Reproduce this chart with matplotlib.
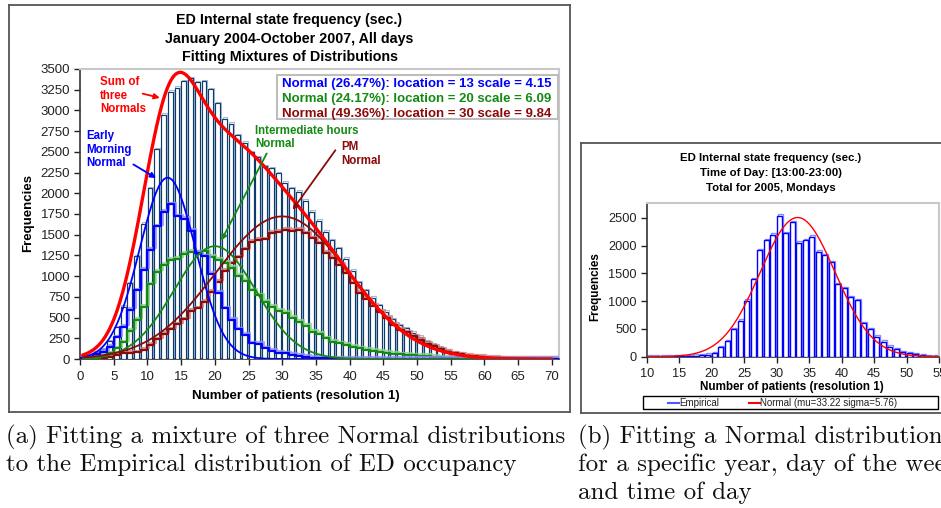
import numpy as np
import matplotlib
matplotlib.use("Agg")
import matplotlib.pyplot as plt
from matplotlib.patches import Rectangle
from matplotlib.lines import Line2D
import matplotlib.patheffects as pe

plt.rcParams['font.family'] = ['Liberation Sans', 'DejaVu Sans']

# ---------------- data: panel (a) ----------------
patients = list(range(71))
empirical = [28, 48, 80, 120, 213, 386, 632, 913, 1243, 1634,
             2062, 2531, 2950, 3225, 3275, 3350, 3387, 3340, 3355, 3255,
             3085, 2900, 2840, 2705, 2610, 2500, 2435, 2330, 2305, 2245,
             2130, 2060, 2020, 1910, 1780, 1670, 1537, 1437, 1336, 1211,
             1066, 925, 829, 740, 652, 571, 479, 410, 370, 318,
             270, 217, 181, 141, 109, 85, 64, 48, 36, 28,
             20, 14, 10, 7, 5, 4, 3, 2, 1, 1, 0]
early_morning = [15, 30, 55, 90, 150, 260, 390, 590, 830, 1075,
                 1320, 1600, 1780, 1865, 1720, 1690, 1550, 1280, 1240, 1030,
                 800, 610, 470, 360, 290, 190, 180, 130, 100, 76,
                 68, 48, 35, 25, 18, 14, 10, 8, 6, 5,
                 4, 3, 2, 2, 1, 1, 1, 0, 0, 0,
                 0, 0, 0, 0, 0, 0, 0, 0, 0, 0,
                 0, 0, 0, 0, 0, 0, 0, 0, 0, 0, 0]
intermediate = [5, 10, 18, 35, 68, 130, 200, 340, 470, 630,
                900, 1055, 1135, 1195, 1210, 1270, 1290, 1285, 1300, 1230,
                1200, 1160, 1100, 1000, 940, 830, 770, 690, 630, 580,
                560, 500, 450, 400, 330, 300, 250, 210, 190, 170,
                150, 130, 110, 95, 85, 75, 65, 55, 50, 45,
                40, 35, 28, 20, 14, 10, 6, 4, 2, 1,
                0, 0, 0, 0, 0, 0, 0, 0, 0, 0, 0]
pm = [5, 8, 10, 15, 25, 48, 68, 76, 80, 109,
      169, 237, 302, 358, 418, 479, 583, 612, 692, 813,
      934, 1066, 1155, 1227, 1324, 1416, 1437, 1445, 1525, 1537,
      1557, 1549, 1557, 1517, 1457, 1396, 1280, 1220, 1140, 1040,
      915, 795, 720, 645, 567, 496, 414, 355, 320, 273,
      230, 182, 151, 116, 89, 70, 55, 42, 32, 25,
      18, 13, 9, 6, 4, 3, 2, 1, 1, 0, 0]
mix_labels = ["Normal (26.47%): location = 13 scale = 4.15",
              "Normal (24.17%): location = 20 scale = 6.09",
              "Normal (49.36%): location = 30 scale = 9.84"]
mix_weights = [0.2647, 0.2417, 0.4936]
mix_loc = [13, 20, 30]
mix_scale = [4.15, 6.09, 9.84]
mix_total = 86000

# ---------------- data: panel (b) ----------------
b_patients = list(range(10, 55))
b_empirical = [0, 0, 0, 2, 4, 8, 12, 18, 25, 35,
               60, 170, 280, 492, 647, 1010, 1391, 1918, 2098, 2197,
               2538, 2218, 2422, 2050, 2098, 2158, 1888, 1828, 1697, 1301,
               1235, 1067, 1013, 605, 497, 360, 270, 180, 132, 78,
               60, 42, 24, 12, 5]
b_mu, b_sigma = 33.22, 5.76

W, H = 941, 508
fig = plt.figure(figsize=(W / 100, H / 100), dpi=100)


def axrect(l, t, r, b):
    return [l / W, 1 - b / H, (r - l) / W, (b - t) / H]


def T(x, y, s, **kw):
    kw.setdefault('va', 'center')
    return fig.text(x / W, 1 - y / H, s, **kw)


def arrow(x0, y0, x1, y1, color):
    fig.patches.append(matplotlib.patches.FancyArrowPatch(
        (x0 / W, 1 - y0 / H), (x1 / W, 1 - y1 / H), transform=fig.transFigure,
        arrowstyle='-|>', mutation_scale=8, color=color, lw=1.3))


def frame(l, t, r, b, color, lw, sides='lrtb'):
    if 'l' in sides:
        fig.lines.append(Line2D([l / W, l / W], [1 - t / H, 1 - b / H], color=color, lw=lw, transform=fig.transFigure))
    if 'r' in sides:
        fig.lines.append(Line2D([r / W, r / W], [1 - t / H, 1 - b / H], color=color, lw=lw, transform=fig.transFigure))
    if 't' in sides:
        fig.lines.append(Line2D([l / W, r / W], [1 - t / H, 1 - t / H], color=color, lw=lw, transform=fig.transFigure))
    if 'b' in sides:
        fig.lines.append(Line2D([l / W, r / W], [1 - b / H, 1 - b / H], color=color, lw=lw, transform=fig.transFigure))


BLUE = '#0000ff'
GREEN = '#138a13'
DRED = '#8b0a0a'
RED = '#ff0000'

# ======================= panel (a) =======================
frame(9, 4.5, 570, 412, '#555555', 1.3)
axL = fig.add_axes(axrect(80, 69, 559.3, 359))
axL.set_xlim(0, 71.1)
axL.set_ylim(0, 3500)
px = np.array(patients)
ev = np.array(empirical)
axL.bar(px + 0.15, ev + 16, width=0.72, align='edge', facecolor='white',
        edgecolor='#a6bbd4', lw=0.8, zorder=2)
axL.bar(px + 0.03, ev, width=0.72, align='edge', facecolor='white',
        edgecolor='#0d3b6e', lw=0.85, zorder=3)

xs = patients + [71]
for vals, col, sh in [(pm, DRED, '#d08080'), (intermediate, GREEN, '#90d090'),
                      (early_morning, BLUE, '#9090ff')]:
    axL.plot(xs, list(vals) + [vals[-1]], drawstyle='steps-post', color=col, lw=1.6, zorder=5,
             path_effects=[pe.SimpleLineShadow(offset=(1.2, 1.2), shadow_color=sh, alpha=0.8), pe.Normal()])

xc = np.linspace(0.4, 70, 700)
comps = [w * mix_total / (s * np.sqrt(2 * np.pi)) * np.exp(-0.5 * ((xc - m) / s) ** 2)
         for w, m, s in zip(mix_weights, mix_loc, mix_scale)]
for c, col in zip(comps, [BLUE, GREEN, DRED]):
    axL.plot(xc, c, color=col, lw=1.3, zorder=6)
axL.plot(xc, comps[0] + comps[1] + comps[2], color=RED, lw=2.4, zorder=7, solid_capstyle='round')

axL.set_xticks(range(0, 71, 5))
axL.set_yticks(range(0, 3501, 250))
axL.tick_params(direction='out', length=4, width=1, labelsize=9.5, colors='#222222')
axL.tick_params(axis='x', pad=5)
axL.tick_params(axis='y', pad=3)
for s in ['left', 'bottom']:
    axL.spines[s].set_color('#333333')
    axL.spines[s].set_linewidth(1.2)
for s in ['top', 'right']:
    axL.spines[s].set_color('#c8c8c8')
    axL.spines[s].set_linewidth(1.5)

T(289.5, 20, "ED Internal state frequency (sec.)", ha='center', size=10.3, weight='bold')
T(289.5, 39, "January 2004-October 2007, All days", ha='center', size=10.3, weight='bold')
T(289.5, 57.5, "Fitting Mixtures of Distributions", ha='center', size=10.3, weight='bold')
T(28, 213, "Frequencies", ha='center', rotation=90, size=9.5, weight='bold')
T(295.5, 396, "Number of patients (resolution 1)", ha='center', size=9.5, weight='bold')

fig.patches.append(Rectangle((276.7 / W, 1 - 119 / H), (558 - 276.7) / W, (119 - 75) / H,
                             transform=fig.transFigure, facecolor='white', edgecolor='#bdbdbd', lw=1.5, zorder=8))
for i, (lab, col) in enumerate(zip(mix_labels, [BLUE, GREEN, DRED])):
    T(282.5, 83.5 + 15.3 * i, lab, ha='left', size=9.5, weight='bold', color=col, zorder=9)

for i, s in enumerate(["Sum of", "three", "Normals"]):
    T(100, 82 + 13.6 * i, s, ha='left', size=8.3, weight='bold', color=RED)
arrow(140, 93, 162.5, 98.5, RED)
for i, s in enumerate(["Early", "Morning", "Normal"]):
    T(86, 136.5 + 13.5 * i, s, ha='left', size=8.3, weight='bold', color=BLUE)
arrow(131, 163, 158.5, 179.5, BLUE)
for i, s in enumerate(["Intermediate hours", "Normal"]):
    T(255, 131 + 13.5 * i, s, ha='left', size=8.3, weight='bold', color=GREEN)
arrow(268, 151, 220, 243, GREEN)
for i, s in enumerate(["PM", "Normal"]):
    T(341.5, 147 + 14 * i, s, ha='left', size=8.3, weight='bold', color=DRED)
arrow(337, 148, 291, 212, DRED)

# ======================= panel (b) =======================
frame(580.5, 143.5, 941, 413.3, '#555555', 1.3, sides='ltb')
axR = fig.add_axes(axrect(646.7, 203.3, 939.2, 356.7))
axR.set_xlim(10, 55)
axR.set_ylim(0, 2759)
bx = np.array(b_patients)
bv = np.array(b_empirical)
axR.bar(bx + 0.14, bv + 25, width=0.78, align='edge', facecolor='white',
        edgecolor='#8c8cff', lw=1.0, zorder=2)
axR.bar(bx + 0.02, bv, width=0.78, align='edge', facecolor='white',
        edgecolor=BLUE, lw=1.0, zorder=3)
b_total = sum(b_empirical)
xr = np.linspace(10, 55, 500)
axR.plot(xr, b_total / (b_sigma * np.sqrt(2 * np.pi)) * np.exp(-0.5 * ((xr - b_mu) / b_sigma) ** 2),
         color=RED, lw=1.0, zorder=5)
axR.set_xticks(range(10, 56, 5))
axR.set_yticks(range(0, 2501, 500))
axR.tick_params(direction='out', length=4, width=1, labelsize=9.2, colors='#222222')
axR.tick_params(axis='x', pad=4)
axR.tick_params(axis='y', pad=3)
for s in ['left', 'bottom']:
    axR.spines[s].set_color('#333333')
    axR.spines[s].set_linewidth(1.2)
for s in ['top', 'right']:
    axR.spines[s].set_color('#c8c8c8')
    axR.spines[s].set_linewidth(1.5)

T(771, 158.3, "ED Internal state frequency (sec.)", ha='center', size=8.2, weight='bold')
T(771, 173.3, "Time of Day: [13:00-23:00)", ha='center', size=8.2, weight='bold')
T(771, 188, "Total for 2005, Mondays", ha='center', size=8.2, weight='bold')
T(595, 287, "Frequencies", ha='center', rotation=90, size=8.4, weight='bold')
T(792, 387, "Number of patients (resolution 1)", ha='center', size=8.4, weight='bold')

fig.patches.append(Rectangle((643.3 / W, 1 - 409.3 / H), (937.7 - 643.3) / W, (409.3 - 396) / H,
                             transform=fig.transFigure, facecolor='white', edgecolor='black', lw=1.0))
fig.lines.append(Line2D([668 / W, 678.5 / W], [1 - 402.7 / H] * 2, color='#5555ff', lw=1.5, transform=fig.transFigure))
T(679.5, 402.7, "Empirical", ha='left', size=7, color='#222222')
fig.lines.append(Line2D([749 / W, 759.5 / W], [1 - 402.7 / H] * 2, color=RED, lw=1.5, transform=fig.transFigure))
T(760.5, 402.7, "Normal (mu=33.22 sigma=5.76)", ha='left', size=7, color='#222222')

# ======================= captions =======================
cap = dict(family='cmr10', size=18, ha='left', color='#111111')
T(6, 437, "(a) Fitting a mixture of three Normal distributions", **cap)
T(6, 465, "to the Empirical distribution of ED occupancy", **cap)
T(578, 437, "(b) Fitting a Normal distribution", **cap)
T(578, 465, "for a specific year, day of the week", **cap)
T(578, 493, "and time of day", **cap)

fig.savefig("out.png", dpi=100)
